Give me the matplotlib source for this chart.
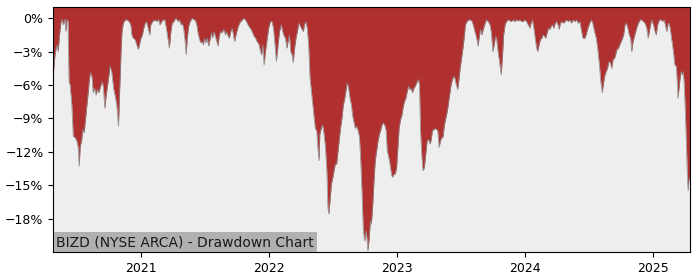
import numpy as np
import pandas as pd
import matplotlib
matplotlib.use("Agg")
import matplotlib.pyplot as plt
import matplotlib.dates as mdates
from matplotlib.ticker import FuncFormatter

# drawdown (%)
dates = [
    "2020-04-27", "2020-05-02", "2020-05-07", "2020-05-11", "2020-05-15", "2020-05-19",
    "2020-05-22", "2020-05-26", "2020-05-30", "2020-06-02", "2020-06-05", "2020-06-08",
    "2020-06-11", "2020-06-14", "2020-06-19", "2020-06-23", "2020-06-28", "2020-07-03",
    "2020-07-07", "2020-07-10", "2020-07-13", "2020-07-17", "2020-07-20", "2020-07-24",
    "2020-07-28", "2020-08-01", "2020-08-05", "2020-08-08", "2020-08-11", "2020-08-15",
    "2020-08-19", "2020-08-23", "2020-08-27", "2020-08-31", "2020-09-04", "2020-09-09",
    "2020-09-14", "2020-09-17", "2020-09-21", "2020-09-25", "2020-09-29", "2020-10-03",
    "2020-10-06", "2020-10-11", "2020-10-16", "2020-10-20", "2020-10-25", "2020-10-30",
    "2020-11-02", "2020-11-06", "2020-11-09", "2020-11-13", "2020-11-19", "2020-11-24",
    "2020-11-29", "2020-12-04", "2020-12-07", "2020-12-11", "2020-12-16", "2020-12-21",
    "2020-12-25", "2020-12-28",
    "2021-01-01", "2021-01-06", "2021-01-10", "2021-01-14", "2021-01-18", "2021-01-23",
    "2021-01-27", "2021-01-30", "2021-02-04", "2021-02-11", "2021-02-17", "2021-02-21",
    "2021-02-25", "2021-03-02", "2021-03-06", "2021-03-11", "2021-03-16", "2021-03-21",
    "2021-03-24", "2021-03-28", "2021-04-01", "2021-04-06", "2021-04-11", "2021-04-15",
    "2021-04-18", "2021-04-22", "2021-04-26", "2021-04-30", "2021-05-04", "2021-05-08",
    "2021-05-11", "2021-05-14", "2021-05-18", "2021-05-22", "2021-05-25", "2021-05-29",
    "2021-06-02", "2021-06-06", "2021-06-10", "2021-06-13", "2021-06-17", "2021-06-21",
    "2021-06-25", "2021-06-29", "2021-07-02", "2021-07-06", "2021-07-10", "2021-07-14",
    "2021-07-18", "2021-07-22", "2021-07-25", "2021-07-29", "2021-08-02", "2021-08-06",
    "2021-08-10", "2021-08-13", "2021-08-17", "2021-08-21", "2021-08-26", "2021-08-31",
    "2021-09-03", "2021-09-07", "2021-09-11", "2021-09-15", "2021-09-19", "2021-09-23",
    "2021-09-26", "2021-09-30", "2021-10-04", "2021-10-08", "2021-10-13", "2021-10-18",
    "2021-10-22", "2021-10-27", "2021-11-01", "2021-11-06", "2021-11-10", "2021-11-15",
    "2021-11-20", "2021-11-25", "2021-11-29", "2021-12-04", "2021-12-09", "2021-12-12",
    "2021-12-15", "2021-12-19", "2021-12-23", "2021-12-28",
    "2022-01-01", "2022-01-06", "2022-01-11", "2022-01-15", "2022-01-20", "2022-01-23",
    "2022-01-27", "2022-02-01", "2022-02-06", "2022-02-10", "2022-02-14", "2022-02-18",
    "2022-02-22", "2022-02-26", "2022-03-01", "2022-03-05", "2022-03-09", "2022-03-12",
    "2022-03-16", "2022-03-20", "2022-03-24", "2022-03-28", "2022-04-02", "2022-04-06",
    "2022-04-10", "2022-04-13", "2022-04-17", "2022-04-21", "2022-04-25", "2022-04-29",
    "2022-05-03", "2022-05-06", "2022-05-10", "2022-05-14", "2022-05-18", "2022-05-22",
    "2022-05-25", "2022-05-27", "2022-05-31", "2022-06-04", "2022-06-08", "2022-06-12",
    "2022-06-16", "2022-06-19", "2022-06-22", "2022-06-25", "2022-06-29", "2022-07-03",
    "2022-07-07", "2022-07-10", "2022-07-14", "2022-07-18", "2022-07-22", "2022-07-25",
    "2022-07-29", "2022-08-02", "2022-08-06", "2022-08-09", "2022-08-13", "2022-08-17",
    "2022-08-21", "2022-08-25", "2022-08-28", "2022-09-01", "2022-09-05", "2022-09-09",
    "2022-09-13", "2022-09-17", "2022-09-21", "2022-09-24", "2022-09-28", "2022-10-02",
    "2022-10-05", "2022-10-08", "2022-10-11", "2022-10-15", "2022-10-18", "2022-10-21",
    "2022-10-25", "2022-10-29", "2022-11-01", "2022-11-05", "2022-11-09", "2022-11-13",
    "2022-11-16", "2022-11-20", "2022-11-24", "2022-11-28", "2022-12-02", "2022-12-05",
    "2022-12-09", "2022-12-13", "2022-12-17", "2022-12-20", "2022-12-24", "2022-12-28",
    "2023-01-01", "2023-01-04", "2023-01-08", "2023-01-12", "2023-01-16", "2023-01-19",
    "2023-01-23", "2023-01-27", "2023-01-31", "2023-02-04", "2023-02-07", "2023-02-11",
    "2023-02-15", "2023-02-19", "2023-02-23", "2023-02-27", "2023-03-04", "2023-03-07",
    "2023-03-10", "2023-03-14", "2023-03-17", "2023-03-21", "2023-03-25", "2023-03-29",
    "2023-04-02", "2023-04-06", "2023-04-09", "2023-04-13", "2023-04-17", "2023-04-21",
    "2023-04-25", "2023-04-28", "2023-05-02", "2023-05-06", "2023-05-10", "2023-05-13",
    "2023-05-17", "2023-05-21", "2023-05-25", "2023-05-28", "2023-06-01", "2023-06-05",
    "2023-06-09", "2023-06-13", "2023-06-16", "2023-06-20", "2023-06-24", "2023-06-28",
    "2023-07-01", "2023-07-05", "2023-07-09", "2023-07-13", "2023-07-16", "2023-07-20",
    "2023-07-26", "2023-07-31", "2023-08-04", "2023-08-07", "2023-08-12", "2023-08-17",
    "2023-08-21", "2023-08-24", "2023-08-28", "2023-09-01", "2023-09-05", "2023-09-10",
    "2023-09-14", "2023-09-19", "2023-09-24", "2023-09-28", "2023-10-02", "2023-10-06",
    "2023-10-10", "2023-10-13", "2023-10-17", "2023-10-21", "2023-10-26", "2023-10-30",
    "2023-11-02", "2023-11-06", "2023-11-10", "2023-11-15", "2023-11-24", "2023-11-29",
    "2023-12-04", "2023-12-08", "2023-12-13", "2023-12-18", "2023-12-23", "2023-12-27",
    "2024-01-01", "2024-01-06", "2024-01-11", "2024-01-16", "2024-01-19", "2024-01-23",
    "2024-01-27", "2024-01-31", "2024-02-04", "2024-02-07", "2024-02-11", "2024-02-15",
    "2024-02-19", "2024-02-22", "2024-02-26", "2024-03-01", "2024-03-05", "2024-03-09",
    "2024-03-13", "2024-03-16", "2024-03-20", "2024-03-24", "2024-03-28", "2024-04-01",
    "2024-04-05", "2024-04-08", "2024-04-12", "2024-04-16", "2024-04-20", "2024-04-25",
    "2024-04-29", "2024-05-04", "2024-05-09", "2024-05-13", "2024-05-18", "2024-05-23",
    "2024-05-28", "2024-06-01", "2024-06-06", "2024-06-10", "2024-06-15", "2024-06-20",
    "2024-06-24", "2024-06-29", "2024-07-04", "2024-07-09", "2024-07-13", "2024-07-18",
    "2024-07-23", "2024-07-27", "2024-08-01", "2024-08-05", "2024-08-09", "2024-08-12",
    "2024-08-16", "2024-08-20", "2024-08-24", "2024-08-28", "2024-09-01", "2024-09-05",
    "2024-09-09", "2024-09-13", "2024-09-16", "2024-09-20", "2024-09-24", "2024-09-28",
    "2024-10-02", "2024-10-06", "2024-10-09", "2024-10-13", "2024-10-17", "2024-10-21",
    "2024-10-25", "2024-10-29", "2024-11-01", "2024-11-05", "2024-11-10", "2024-11-15",
    "2024-11-20", "2024-11-25", "2024-11-29", "2024-12-04", "2024-12-09", "2024-12-14",
    "2024-12-18", "2024-12-23", "2024-12-28",
    "2025-01-02", "2025-01-07", "2025-01-10", "2025-01-14", "2025-01-19", "2025-01-24",
    "2025-01-28", "2025-02-01", "2025-02-05", "2025-02-09", "2025-02-13", "2025-02-16",
    "2025-02-20", "2025-02-24", "2025-02-28", "2025-03-04", "2025-03-08", "2025-03-11",
    "2025-03-13", "2025-03-16", "2025-03-19", "2025-03-22", "2025-03-25", "2025-03-28",
    "2025-03-31", "2025-04-04", "2025-04-07", "2025-04-09", "2025-04-11", "2025-04-13",
    "2025-04-15", "2025-04-17",
]

drawdown = [
    -5.1, -3.3, -2.4, -3.0, -1.5, -0.4,
    -0.1, -0.6, -0.1, -1.2, -0.1, -0.3,
    -5.7, -6.0, -7.8, -10.6, -10.7, -11.0,
    -11.6, -13.3, -11.5, -11.0, -10.0, -10.3,
    -9.1, -7.8, -6.6, -5.5, -4.9, -5.2,
    -6.7, -6.3, -6.9, -6.4, -6.7, -6.1,
    -5.7, -6.3, -8.1, -6.9, -6.0, -5.1,
    -4.3, -4.9, -6.3, -6.9, -7.8, -9.7,
    -6.9, -3.3, -1.2, -0.4, -0.15, -0.15,
    -0.3, -0.6, -1.5, -1.8, -1.9, -2.4,
    -2.8, -2.5,
    -1.9, -1.5, -0.9, -0.45, -0.3, -1.0,
    -1.5, -0.6, -0.3, -0.15, -0.3, -0.1,
    -0.6, -0.3, -0.15, -0.15, -1.0, -2.1,
    -2.7, -1.3, -0.45, -0.3, 0.0, -0.15,
    -0.3, -0.15, -0.6, -0.45, -1.0, -2.1,
    -3.3, -1.8, -0.75, -0.3, -0.15, 0.0,
    -0.15, -0.15, -0.6, -1.2, -1.8, -2.2,
    -2.1, -2.4, -1.8, -2.2, -1.8, -2.5,
    -1.9, -1.3, -1.8, -1.2, -1.6, -2.1,
    -2.5, -1.6, -1.2, -1.3, -1.0, -1.5,
    -1.2, -1.6, -1.8, -1.2, -0.9, -1.6,
    -2.1, -1.5, -1.0, -0.6, -0.3, -0.15,
    0.0, -0.15, -0.45, -0.75, -0.9, -1.2,
    -1.6, -1.8, -2.1, -2.3, -3.0, -3.3,
    -2.4, -4.2, -3.0, -1.8,
    -0.9, -0.3, -0.3, -1.0, -2.7, -3.9,
    -2.7, -1.2, -0.6, -1.2, -1.6, -1.8,
    -2.7, -2.0, -1.5, -3.0, -3.3, -4.0,
    -2.7, -1.8, -1.2, -0.45, -0.75, -1.0,
    -1.2, -0.6, -0.3, -0.9, -2.4, -5.4,
    -6.6, -7.5, -8.7, -9.9, -10.1, -11.9,
    -12.8, -10.4, -9.9, -9.6, -10.4, -11.6,
    -13.7, -17.0, -17.6, -16.4, -14.9, -14.3,
    -13.6, -13.1, -13.1, -11.9, -10.7, -9.9,
    -9.0, -7.8, -7.2, -6.6, -5.8, -6.3,
    -7.2, -7.8, -8.7, -9.3, -9.9, -9.7,
    -10.1, -10.7, -13.1, -15.5, -19.1, -20.0,
    -19.1, -19.7, -20.9, -19.7, -18.2, -18.5,
    -16.7, -14.3, -12.8, -11.9, -11.0, -10.4,
    -10.1, -9.6, -9.4, -9.6, -10.1, -11.9,
    -12.4, -13.1, -14.0, -14.3, -14.0, -14.0,
    -13.4, -11.9, -9.9, -9.1, -8.7, -8.1,
    -7.5, -7.2, -6.6, -6.1, -6.4, -6.3,
    -6.7, -6.3, -6.1, -5.8, -5.5, -6.0,
    -10.1, -12.5, -13.7, -13.4, -12.2, -11.0,
    -10.9, -11.3, -11.0, -10.1, -10.0, -9.9,
    -10.0, -10.1, -11.6, -11.0, -10.7, -10.7,
    -9.6, -9.0, -8.4, -7.8, -6.9, -6.0,
    -5.5, -5.2, -5.4, -6.0, -6.4, -5.4,
    -4.5, -3.6, -2.7, -1.6, -0.6, -0.3,
    -0.15, -0.15, -0.3, -0.6, -1.2, -1.8,
    -2.5, -1.8, -1.0, -1.5, -1.0, -0.45,
    -0.15, -0.3, -0.6, -1.3, -3.0, -2.4,
    -1.6, -1.9, -3.0, -3.9, -5.1, -3.3,
    -1.5, -0.6, -0.3, -0.15, -0.3, -0.15,
    -0.3, -0.15, -0.25, -0.15, -0.3, -0.3,
    -0.15, -0.3, -0.6, -0.9, -0.45, -0.15,
    -0.9, -1.8, -2.7, -3.0, -2.4, -1.9,
    -1.8, -1.5, -1.6, -1.8, -1.3, -0.9,
    -1.0, -0.75, -0.6, -0.9, -0.45, -0.3,
    -0.6, -1.0, -0.45, -0.3, -0.45, -0.3,
    -0.15, -0.3, -0.15, -0.45, -0.15, -0.3,
    -0.15, -0.45, -0.3, -1.0, -1.8, -1.8,
    -1.5, -0.9, -0.45, -0.15, -0.45, -1.2,
    -1.8, -2.7, -4.2, -5.7, -6.7, -6.0,
    -5.2, -4.8, -4.5, -3.9, -4.0, -4.5,
    -3.7, -3.6, -3.3, -2.8, -2.7, -2.4,
    -2.1, -1.8, -1.5, -0.6, -0.45, -0.9,
    -1.5, -1.8, -3.0, -2.1, -1.5, -0.9,
    -0.45, -0.15, -0.15, -0.3, -0.45, -0.9,
    -1.8, -0.9, -0.15,
    -0.6, -1.3, -1.5, -0.6, -0.15, -0.15,
    -0.3, -0.15, -0.6, -1.2, -0.45, -0.45,
    -1.2, -2.1, -3.0, -4.2, -4.3, -5.7,
    -7.2, -6.3, -5.4, -4.8, -5.1, -4.8,
    -6.0, -9.3, -12.2, -14.3, -15.5, -14.6,
    -14.3, -14.6,
]

title = "BIZD (NYSE ARCA) - Drawdown Chart"

x = pd.to_datetime(dates)
dd = np.array(drawdown)

fig = plt.figure(figsize=(7, 2.8), dpi=100)
ax = fig.add_axes([0.076, 0.1, 0.91, 0.875])
ax.set_facecolor("#eeeeee")

# red area from the curve up to the top, thin grey edge on the curve
ax.fill_between(x, dd, 1.0, color="#b03030", linewidth=0)
ax.plot(x, dd, color="#8a8a8a", linewidth=0.5)

ax.set_xlim(x[0], x[-1])
ax.set_ylim(-21, 1)
ax.set_yticks([0, -3, -6, -9, -12, -15, -18])
ax.yaxis.set_major_formatter(FuncFormatter(lambda v, p: "%d%%" % v if v >= 0 else "\u2212%d%%" % -v))
ax.xaxis.set_major_locator(mdates.YearLocator())
ax.xaxis.set_major_formatter(mdates.DateFormatter("%Y"))
ax.tick_params(labelsize=9)

ax.text(0.005, 0.012, title, transform=ax.transAxes, fontsize=10, color="#1a1a1a",
        ha="left", va="bottom",
        bbox=dict(facecolor="#b0b0b0", edgecolor="none", boxstyle="square,pad=0.2"))

fig.savefig("out.png", dpi=100)
